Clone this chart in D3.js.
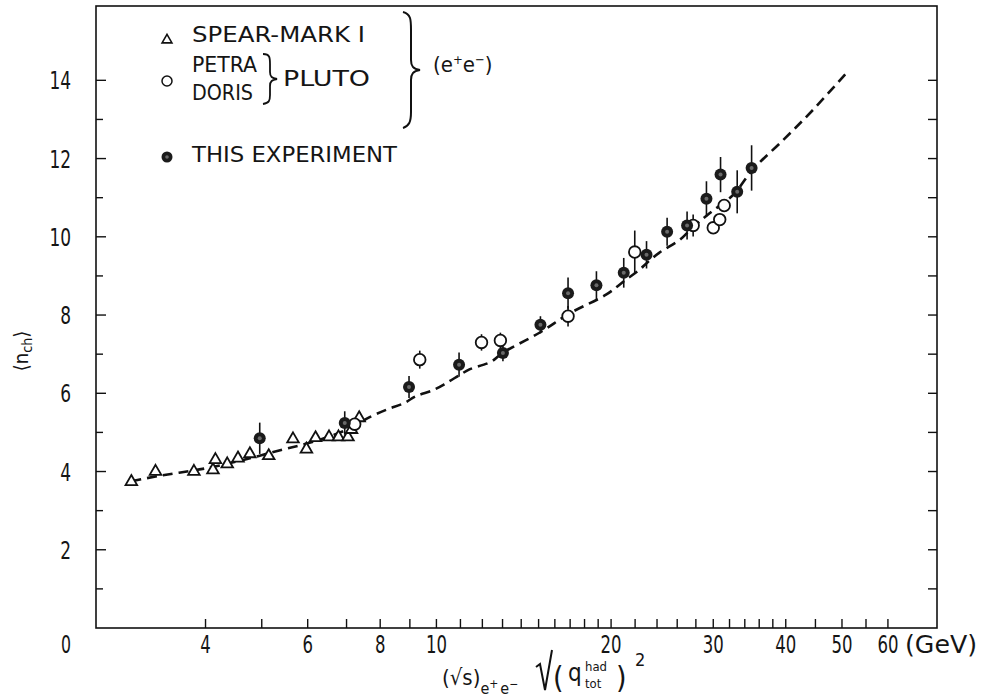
<!DOCTYPE html>
<html>
<head>
<meta charset="utf-8">
<script src="https://cdn.jsdelivr.net/npm/d3@7"></script>
<style>
  body { margin: 0; background: #fff; }
  text { font-family: "Liberation Sans Narrow", "Arial Narrow", "DejaVu Sans Condensed", "Liberation Sans", sans-serif; fill: #151515; }
</style>
</head>
<body>
<div id="chart"></div>
<script>
// SPEAR-MARK I (triangles)
const spearX = [2.98, 3.28, 3.82, 4.12, 4.16, 4.36, 4.55, 4.77, 5.14, 5.66, 5.97, 6.19, 6.53, 6.78, 7.04, 7.14, 7.36];
const spearY = [3.74, 4.00, 4.00, 4.04, 4.30, 4.19, 4.34, 4.45, 4.40, 4.83, 4.57, 4.86, 4.88, 4.88, 4.88, 5.07, 5.37];

// PETRA / DORIS - PLUTO (open circles)
const plutoX = [7.23, 9.36, 11.96, 12.89, 16.86, 21.97, 27.7, 30.0, 30.78, 31.33];
const plutoY = [5.21, 6.86, 7.30, 7.35, 7.97, 9.61, 10.29, 10.23, 10.44, 10.80];
const plutoErr = [0, 0.23, 0.21, 0.20, 0.26, 0.55, 0.28, 0, 0, 0];

// THIS EXPERIMENT (filled circles)
const expX = [4.96, 6.95, 8.97, 10.94, 13.02, 15.11, 16.86, 18.87, 21.03, 23.02, 24.98, 27.04, 29.2, 30.88, 32.99, 34.93];
const expY = [4.85, 5.24, 6.16, 6.73, 7.03, 7.75, 8.56, 8.76, 9.08, 9.54, 10.13, 10.29, 10.97, 11.59, 11.15, 11.76];
const expErr = [0.40, 0.30, 0.28, 0.31, 0.21, 0.22, 0.40, 0.36, 0.38, 0.35, 0.36, 0.36, 0.45, 0.45, 0.55, 0.58];

// dashed curve
const curveX = [2.98, 3.3, 3.6, 4.0, 4.6, 5.4, 6.0, 6.5, 7.2, 7.6, 8.2, 8.8, 9.2, 9.9, 10.4, 11.0, 11.4, 12.4, 13.0, 15.1, 17.0, 19.6, 21.2, 22.4, 23.0, 24.2, 26.3, 27.7, 29.6, 32.5, 35.1, 39.7, 44.6, 50.9];
const curveY = [3.75, 3.88, 3.97, 4.08, 4.28, 4.55, 4.72, 4.88, 5.15, 5.36, 5.58, 5.75, 5.92, 6.09, 6.26, 6.48, 6.61, 6.80, 7.03, 7.56, 8.05, 8.52, 8.90, 9.16, 9.32, 9.59, 9.93, 10.25, 10.61, 11.08, 11.72, 12.49, 13.25, 14.19];

// ticks
const xTicks = [4,5,6,7,8,9,10,11,12,13,14,15,16,17,18,19,20,22,24,26,28,30,32,34,36,38,40,45,50,55,60];
const xLabels = [4, 6, 8, 10, 20, 30, 40, 50, 60];
const yTicks = [1,2,3,4,5,6,7,8,9,10,11,12,13,14];
const yLabels = [2, 4, 6, 8, 10, 12, 14];

function drawChart() {
  const W = 983, H = 700;
  const left = 96, right = 937, top = 6, bottom = 628;

  const svg = d3.select("#chart").append("svg")
    .attr("width", W).attr("height", H);

  const x = d3.scaleLog().domain([2.59, 72.9]).range([left, right]);
  const y = d3.scaleLinear().domain([0, 15.9]).range([bottom, top]);

  // frame
  svg.append("rect")
    .attr("x", left).attr("y", top)
    .attr("width", right - left).attr("height", bottom - top)
    .attr("fill", "none").attr("stroke", "#111").attr("stroke-width", 1.6);

  // bottom ticks (inward)
  svg.append("g").selectAll("line").data(xTicks).enter().append("line")
    .attr("x1", d => x(d)).attr("x2", d => x(d))
    .attr("y1", bottom).attr("y2", bottom - 9)
    .attr("stroke", "#111").attr("stroke-width", 1.4);

  // left + right ticks
  svg.append("g").selectAll("line").data(yTicks).enter().append("line")
    .attr("x1", left).attr("x2", d => left + (d % 2 === 0 ? 10 : 7))
    .attr("y1", d => y(d)).attr("y2", d => y(d))
    .attr("stroke", "#111").attr("stroke-width", 1.4);
  svg.append("g").selectAll("line").data(yTicks).enter().append("line")
    .attr("x1", right).attr("x2", right - 9)
    .attr("y1", d => y(d)).attr("y2", d => y(d))
    .attr("stroke", "#111").attr("stroke-width", 1.4);

  // tick labels
  svg.append("g").selectAll("text").data(xLabels).enter().append("text")
    .attr("x", d => x(d)).attr("y", 653)
    .attr("text-anchor", "middle")
    .attr("font-size", 24)
    .attr("textLength", d => String(d).length * 10.5)
    .attr("lengthAdjust", "spacingAndGlyphs")
    .text(d => d);
  svg.append("text").attr("x", 905).attr("y", 653).attr("font-size", 24)
    .attr("textLength", 72).attr("lengthAdjust", "spacingAndGlyphs")
    .text("(GeV)");

  svg.append("g").selectAll("text").data(yLabels).enter().append("text")
    .attr("x", 71).attr("y", d => y(d) + 9)
    .attr("text-anchor", "end")
    .attr("font-size", 24)
    .attr("textLength", d => String(d).length * 10.8)
    .attr("lengthAdjust", "spacingAndGlyphs")
    .text(d => d);
  // the zero sits in the corner below the frame
  svg.append("text").attr("x", 71).attr("y", 653).attr("text-anchor", "end")
    .attr("font-size", 24).attr("textLength", 10).attr("lengthAdjust", "spacingAndGlyphs")
    .text("0");

  // dashed curve
  const curve = curveX.map((d, i) => [d, curveY[i]]);
  svg.append("path")
    .datum(curve)
    .attr("d", d3.line().x(d => x(d[0])).y(d => y(d[1])).curve(d3.curveCatmullRom))
    .attr("fill", "none").attr("stroke", "#111")
    .attr("stroke-width", 2.6).attr("stroke-dasharray", "10,6");

  // error bars
  const expData = expX.map((d, i) => ({x: d, y: expY[i], e: expErr[i]}));
  const plutoData = plutoX.map((d, i) => ({x: d, y: plutoY[i], e: plutoErr[i]}));
  svg.append("g").selectAll("line").data(expData.concat(plutoData).filter(d => d.e > 0))
    .enter().append("line")
    .attr("x1", d => x(d.x)).attr("x2", d => x(d.x))
    .attr("y1", d => y(d.y - d.e)).attr("y2", d => y(d.y + d.e))
    .attr("stroke", "#111").attr("stroke-width", 1.6);

  // triangles
  const tri = d3.symbol(d3.symbolTriangle, 58);
  svg.append("g").selectAll("path").data(spearX.map((d, i) => [d, spearY[i]]))
    .enter().append("path")
    .attr("d", tri)
    .attr("transform", d => `translate(${x(d[0])},${y(d[1])})`)
    .attr("fill", "#fff").attr("stroke", "#111").attr("stroke-width", 1.8);

  // open circles
  svg.append("g").selectAll("circle").data(plutoData).enter().append("circle")
    .attr("cx", d => x(d.x)).attr("cy", d => y(d.y)).attr("r", 5.8)
    .attr("fill", "#fff").attr("stroke", "#111").attr("stroke-width", 1.8);

  // filled circles
  const fg = svg.append("g");
  fg.selectAll("circle.o").data(expData).enter().append("circle")
    .attr("cx", d => x(d.x)).attr("cy", d => y(d.y)).attr("r", 6)
    .attr("fill", "#1b1b1b");
  fg.selectAll("circle.i").data(expData).enter().append("circle")
    .attr("cx", d => x(d.x)).attr("cy", d => y(d.y)).attr("r", 2)
    .attr("fill", "#6a6a6a");

  // legend
  const lg = svg.append("g");
  lg.append("path").attr("d", d3.symbol(d3.symbolTriangle, 42))
    .attr("transform", "translate(167,40)")
    .attr("fill", "#fff").attr("stroke", "#111").attr("stroke-width", 1.6);
  lg.append("circle").attr("cx", 167).attr("cy", 81).attr("r", 5)
    .attr("fill", "#fff").attr("stroke", "#111").attr("stroke-width", 1.5);
  lg.append("circle").attr("cx", 167).attr("cy", 157).attr("r", 5.5).attr("fill", "#1b1b1b");
  lg.append("circle").attr("cx", 167).attr("cy", 157).attr("r", 1.8).attr("fill", "#6a6a6a");

  const legendText = [
    ["SPEAR-MARK I", 192, 42, 173],
    ["PETRA", 192, 72, 65],
    ["DORIS", 192, 100, 61],
    ["PLUTO", 283, 86, 87],
    ["THIS EXPERIMENT", 192, 162, 205]
  ];
  lg.selectAll("text.l").data(legendText).enter().append("text")
    .attr("x", d => d[1]).attr("y", d => d[2])
    .attr("font-size", 22)
    .attr("textLength", d => d[3]).attr("lengthAdjust", "spacingAndGlyphs")
    .text(d => d[0]);

  // braces
  lg.append("path")
    .attr("d", "M263,54 C270,54 270,58 270,64 L270,72 C270,77 272,78 277,79 C272,80 270,81 270,86 L270,95 C270,101 269,103 263,104")
    .attr("fill", "none").attr("stroke", "#111").attr("stroke-width", 1.8);
  lg.append("path")
    .attr("d", "M403,12 C411,14 411,20 411,30 L411,60 C411,66 413,69 420,70 C413,71 411,74 411,80 L411,112 C411,122 409,126 403,128")
    .attr("fill", "none").attr("stroke", "#111").attr("stroke-width", 2);

  const ee = lg.append("text").attr("x", 433).attr("y", 72).attr("font-size", 22);
  ee.append("tspan").text("(e");
  ee.append("tspan").attr("font-size", 13).attr("dy", -8).text("+");
  ee.append("tspan").attr("dy", 8).text("e");
  ee.append("tspan").attr("font-size", 13).attr("dy", -8).text("\u2212");
  ee.append("tspan").attr("dy", 8).text(")");

  // y axis title
  const yt = svg.append("text")
    .attr("transform", "translate(28,351) rotate(-90)")
    .attr("text-anchor", "middle")
    .attr("font-size", 20);
  yt.append("tspan").text("\u27E8n");
  yt.append("tspan").attr("font-size", 14).attr("dy", 4).text("ch");
  yt.append("tspan").attr("dy", -4).text("\u27E9");

  // x axis title
  const xt = svg.append("g");
  const t1 = xt.append("text").attr("x", 442).attr("y", 685).attr("font-size", 22);
  t1.append("tspan").text("(\u221As)");
  t1.append("tspan").attr("font-size", 16).attr("dy", 9).text("e");
  t1.append("tspan").attr("font-size", 12).attr("dy", -6).text("+");
  t1.append("tspan").attr("font-size", 16).attr("dy", 6).attr("dx", 2).text("e");
  t1.append("tspan").attr("font-size", 12).attr("dy", -6).text("\u2212");
  xt.append("path").attr("d", "M536,667 L540,664 L545,690 L552,650")
    .attr("fill", "none").attr("stroke", "#111").attr("stroke-width", 2);
  xt.append("text").attr("x", 553).attr("y", 688).attr("font-size", 30).text("(");
  xt.append("text").attr("x", 568).attr("y", 681).attr("font-size", 24).text("q");
  // super/subscript stacked in one text so they do not collide
  const qs = xt.append("text").attr("x", 585).attr("y", 671).attr("font-size", 13);
  qs.append("tspan").text("had");
  qs.append("tspan").attr("x", 585).attr("dy", 17).text("tot");
  xt.append("text").attr("x", 616).attr("y", 688).attr("font-size", 30).text(")");
  xt.append("text").attr("x", 635).attr("y", 666).attr("font-size", 18).text("2");
}

document.addEventListener("DOMContentLoaded", drawChart);
</script>
</body>
</html>
